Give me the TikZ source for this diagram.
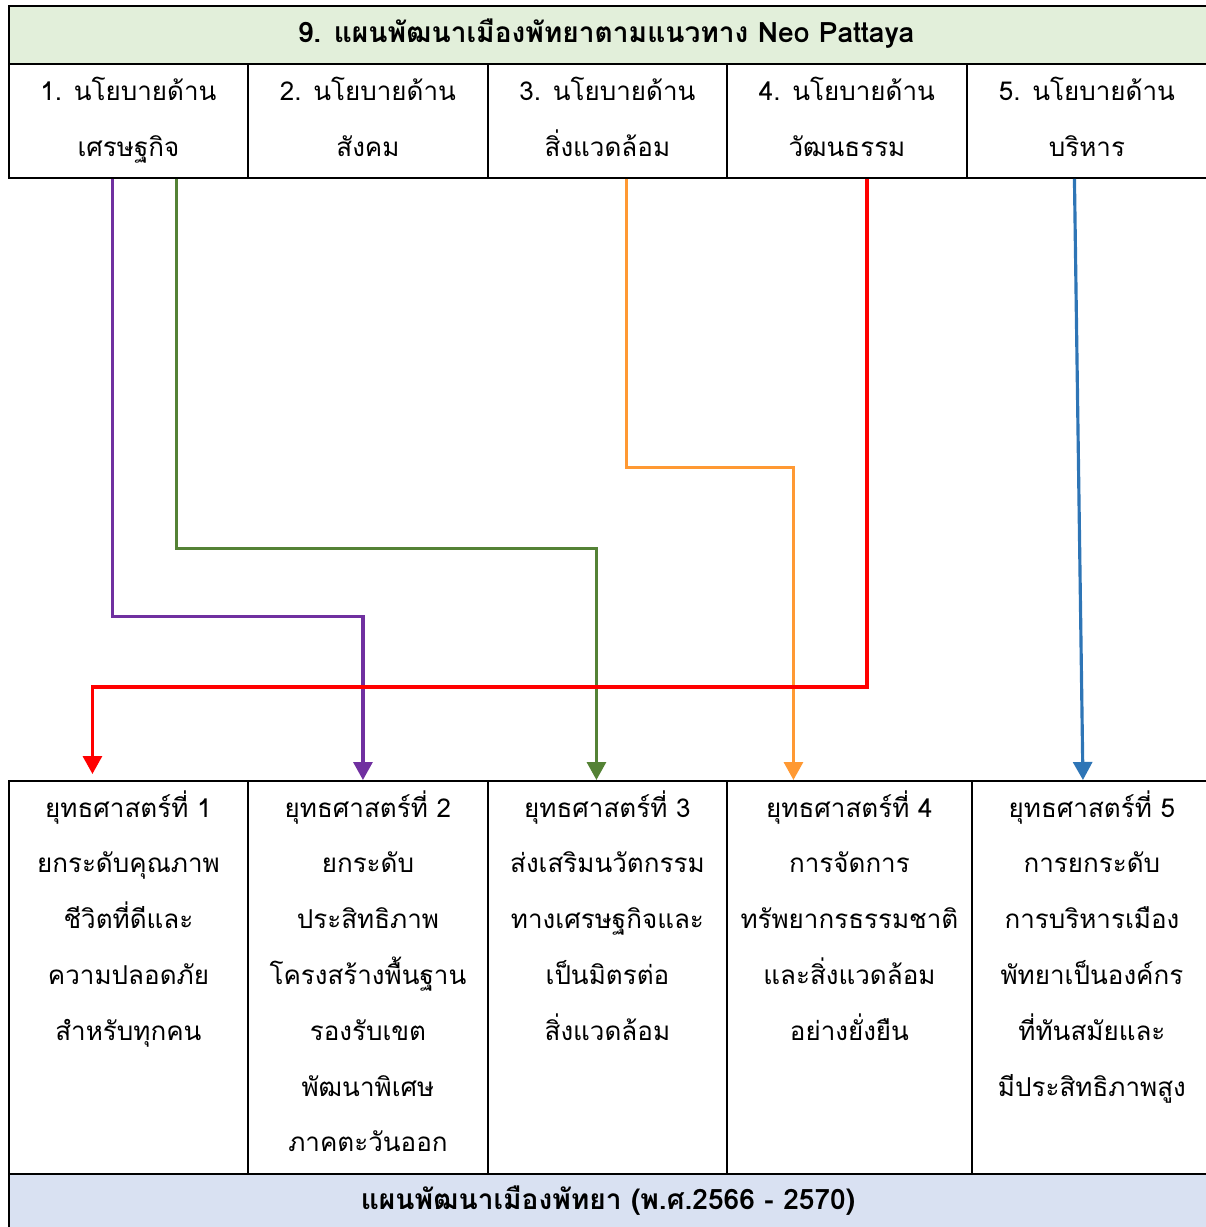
\documentclass[tikz,border=0pt]{standalone}
\usepackage{fontspec}
\setmainfont[Script=Thai]{Loma}
\usetikzlibrary{positioning,calc,arrows.meta}
\definecolor{headgreen}{HTML}{E2EFDA}
\definecolor{footblue}{HTML}{D9E1F2}
\definecolor{linepurple}{HTML}{7030A0}
\definecolor{linegreen}{HTML}{548235}
\definecolor{lineorange}{HTML}{FF9933}
\definecolor{linered}{HTML}{FF0000}
\definecolor{lineblue}{HTML}{2E75B6}
\tikzset{
  cell/.style={draw, line width=1.1pt, inner sep=0pt, anchor=north west},
  celltext/.style={align=center, inner sep=0pt, font=\fontsize{14.8pt}{31.75pt}\selectfont},
  link/.style={line width=1.8pt, -{Triangle[length=0.36cm, width=0.38cm]}},
}

\begin{document}
\begin{tikzpicture}[x=0.02cm, y=-0.02cm]
        \useasboundingbox (0,0) rectangle (1205,1227);
        % header and policies
        \node[cell, fill=headgreen, minimum width=24.1cm, minimum height=1.16cm] (head) at (8,5) {};
        \node[celltext, font=\bfseries\fontsize{16pt}{31.75pt}\selectfont] (headtxt) at (606,34) {9. แผนพัฒนาเมืองพัทยาตามแนวทาง Neo Pattaya};
        \node[cell, minimum width=4.78cm, minimum height=2.28cm] (pol1) at (8,63) {};
        \node[cell, minimum width=4.80cm, minimum height=2.28cm] (pol2) at (247,63) {};
        \node[cell, minimum width=4.78cm, minimum height=2.28cm] (pol3) at (487,63) {};
        \node[cell, minimum width=4.80cm, minimum height=2.28cm] (pol4) at (726,63) {};
        \node[cell, minimum width=4.90cm, minimum height=2.28cm] (pol5) at (966,63) {};
        \node[celltext] (pol1txt) at ([yshift=0.02cm]pol1) {1. นโยบายด้าน\\เศรษฐกิจ};
        \node[celltext] (pol2txt) at ([yshift=0.08cm]pol2) {2. นโยบายด้าน\\สังคม};
        \node[celltext] (pol3txt) at ([yshift=0.08cm]pol3) {3. นโยบายด้าน\\สิ่งแวดล้อม};
        \node[celltext] (pol4txt) at ([yshift=0.08cm]pol4) {4. นโยบายด้าน\\วัฒนธรรม};
        \node[celltext] (pol5txt) at ([xshift=-0.05cm,yshift=0.08cm]pol5) {5. นโยบายด้าน\\บริหาร};
        % strategies and footer
        \node[cell, minimum width=4.78cm, minimum height=7.86cm] (str1) at (8,780) {};
        \node[cell, minimum width=4.80cm, minimum height=7.86cm] (str2) at (247,780) {};
        \node[cell, minimum width=4.78cm, minimum height=7.86cm] (str3) at (487,780) {};
        \node[cell, minimum width=4.90cm, minimum height=7.86cm] (str4) at (726,780) {};
        \node[cell, minimum width=4.80cm, minimum height=7.86cm] (str5) at (971,780) {};
        \node[celltext, below=0.2cm of str1.north] (str1txt) {ยุทธศาสตร์ที่ 1\\ยกระดับคุณภาพ\\ชีวิตที่ดีและ\\ความปลอดภัย\\สำหรับทุกคน};
        \node[celltext, below=0.2cm of str2.north] (str2txt) {ยุทธศาสตร์ที่ 2\\ยกระดับ\\ประสิทธิภาพ\\โครงสร้างพื้นฐาน\\รองรับเขต\\พัฒนาพิเศษ\\ภาคตะวันออก};
        \node[celltext, below=0.2cm of str3.north] (str3txt) {ยุทธศาสตร์ที่ 3\\ส่งเสริมนวัตกรรม\\ทางเศรษฐกิจและ\\เป็นมิตรต่อ\\สิ่งแวดล้อม};
        \node[celltext, below=0.2cm of str4.north] (str4txt) {ยุทธศาสตร์ที่ 4\\การจัดการ\\ทรัพยากรธรรมชาติ\\และสิ่งแวดล้อม\\อย่างยั่งยืน};
        \node[celltext, below=0.2cm of str5.north] (str5txt) {ยุทธศาสตร์ที่ 5\\การยกระดับ\\การบริหารเมือง\\พัทยาเป็นองค์กร\\ที่ทันสมัยและ\\มีประสิทธิภาพสูง};
        \node[cell, fill=footblue, minimum width=24.1cm, minimum height=1.2cm] (foot) at (8,1173) {};
        \node[celltext, font=\bfseries\fontsize{16pt}{31.75pt}\selectfont] (foottxt) at (608,1201) {แผนพัฒนาเมืองพัทยา (พ.ศ.2566 - 2570)};
        % links
        \draw[link, linepurple] ($(pol1.south)+(-16,0)$) -- ++(0,438) -| ($(str2.north)+(-5,0)$);
        \draw[link, linegreen] ($(pol1.south)+(48,0)$) -- ++(0,370) -| ($(str3.north)+(-11,0)$);
        \draw[link, lineorange] ($(pol3.south)+(19,0)$) -- ++(0,289) -| ($(str4.north)+(-56,0)$);
        \draw[link, linered] ($(pol4.south)+(20,0)$) -- ++(0,508) -| ($(str1.north)+(-36,-6)$);
        \draw[link, lineblue] ($(pol5.south)+(-15,0)$) -- ($(str5.north)+(-9,0)$);
    \end{tikzpicture}
\end{document}
